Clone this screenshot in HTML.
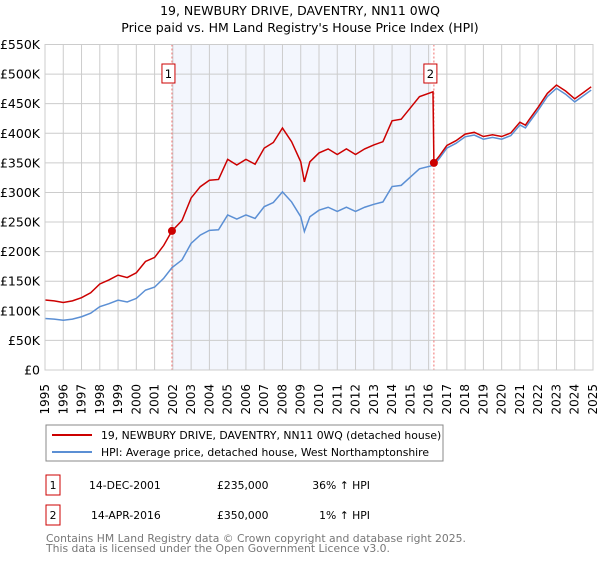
<!DOCTYPE html>
<html><head><meta charset="utf-8"><style>
body{margin:0;background:#fff;font-family:"Liberation Sans","DejaVu Sans",sans-serif;}
svg text{font-family:"DejaVu Sans","Liberation Sans",sans-serif;}
</style></head><body>
<svg id="c" width="600" height="560" viewBox="0 0 600 560">
<text x="300" y="15" font-size="12.5" text-anchor="middle">19, NEWBURY DRIVE, DAVENTRY, NN11 0WQ</text>
<text x="300" y="32" font-size="12.5" text-anchor="middle">Price paid vs. HM Land Registry's House Price Index (HPI)</text>
<g id="plot"></g>
<g>
<rect x="46" y="425" width="397" height="36" fill="#fff" stroke="#888"/>
<line x1="52" y1="435" x2="92" y2="435" stroke="#cc0000" stroke-width="2"/>
<text x="101" y="439" font-size="10.8">19, NEWBURY DRIVE, DAVENTRY, NN11 0WQ (detached house)</text>
<line x1="52" y1="452" x2="92" y2="452" stroke="#5b8fd4" stroke-width="2"/>
<text x="101" y="456" font-size="10.8">HPI: Average price, detached house, West Northamptonshire</text>
</g>
<g font-size="10.8">
<rect x="46" y="475" width="14" height="20" fill="#fff" stroke="#cc0000"/>
<text x="53" y="489" text-anchor="middle">1</text>
<text x="89" y="489">14-DEC-2001</text>
<text x="217" y="489">£235,000</text>
<text x="370" y="489" text-anchor="end">36% ↑ HPI</text>
<rect x="46" y="505" width="14" height="20" fill="#fff" stroke="#cc0000"/>
<text x="53" y="519" text-anchor="middle">2</text>
<text x="91" y="519">14-APR-2016</text>
<text x="217" y="519">£350,000</text>
<text x="370" y="519" text-anchor="end">1% ↑ HPI</text>
</g>
<text x="46" y="542" font-size="10.8" fill="#777">Contains HM Land Registry data © Crown copyright and database right 2025.</text>
<text x="46" y="552" font-size="10.8" fill="#777">This data is licensed under the Open Government Licence v3.0.</text>
</svg>
<script>
const hpiYears=[1995,1995.5,1996,1996.5,1997,1997.5,1998,1998.5,1999,1999.5,2000,2000.5,2001,2001.5,2001.95,2002.5,2003,2003.5,2004,2004.5,2005,2005.5,2006,2006.5,2007,2007.5,2008,2008.5,2009,2009.2,2009.5,2010,2010.5,2011,2011.5,2012,2012.5,2013,2013.5,2014,2014.5,2015,2015.5,2016.29,2016.6,2017,2017.5,2018,2018.5,2019,2019.5,2020,2020.5,2021,2021.3,2021.5,2022,2022.5,2023,2023.5,2024,2024.5,2024.9];
const hpiValues=[87,86,84,86,90,96,107,112,118,115,121,135,140,155,173,186,214,228,236,237,262,255,262,256,276,283,301,284,259,234,259,270,275,268,275,268,275,280,284,310,312,326,340,346,358,375,383,394,397,390,393,390,396,414,409,418,439,462,476,466,453,464,473];
const saleYears=[2001.95,2016.29];
const salePrices=[235,350];
const saleLabels=["1","2"];
const yTicks=[0,50,100,150,200,250,300,350,400,450,500,550];
const yTickLabels=["£0","£50K","£100K","£150K","£200K","£250K","£300K","£350K","£400K","£450K","£500K","£550K"];
const xTicks=[1995,1996,1997,1998,1999,2000,2001,2002,2003,2004,2005,2006,2007,2008,2009,2010,2011,2012,2013,2014,2015,2016,2017,2018,2019,2020,2021,2022,2023,2024,2025];

const L=45,R=593,T=44.5,B=370;
const xs=y=>L+(y-1995)/(2025-1995)*(R-L);
const ys=v=>B-v/550*(B-T);
const NS='http://www.w3.org/2000/svg';
const g=document.getElementById('plot');
function mk(tag,attrs,parent){const e=document.createElementNS(NS,tag);for(const k in attrs)e.setAttribute(k,attrs[k]);(parent||g).appendChild(e);return e;}

const shade=mk('rect',{x:xs(saleYears[0]),y:T,width:xs(saleYears[1])-xs(saleYears[0])-3,height:B-T,fill:'#f3f6fd'});


xTicks.forEach(t=>{const l=mk('line',{x1:xs(t),x2:xs(t),y1:T,y2:B,stroke:'#ccc','stroke-width':1});


const tx=mk('text',{x:0,y:0,'font-size':12,'text-anchor':'end',transform:`translate(${xs(t)+4},384) rotate(-90)`});tx.textContent=t;

});
yTicks.forEach((t,i)=>{const l=mk('line',{x1:L,x2:R,y1:ys(t),y2:ys(t),stroke:'#ccc','stroke-width':1});


const tx=mk('text',{x:40,y:ys(t)+4.5,'font-size':12.5,'text-anchor':'end'});tx.textContent=yTickLabels[i];

});
saleYears.forEach((s,i)=>{const l=mk('line',{x1:xs(s),x2:xs(s),y1:T,y2:B,stroke:'#f07070','stroke-width':1,'stroke-dasharray':'2,2'});


const bx=mk('rect',{x:xs(s)-10,y:64,width:13,height:19,fill:'#fff',stroke:'#cc0000'});


const tx=mk('text',{x:xs(s)-3.5,y:78,'font-size':11.5,'text-anchor':'middle'});tx.textContent=saleLabels[i];

});
const hp=mk('polyline',{points:hpiYears.map((y,i)=>xs(y)+','+ys(hpiValues[i])).join(' '),fill:'none',stroke:'#5b8fd4','stroke-width':1.5});


function hpiAt(y){for(let i=0;i<hpiYears.length-1;i++){if(y<=hpiYears[i+1]){const f=(y-hpiYears[i])/(hpiYears[i+1]-hpiYears[i]);return hpiValues[i]+f*(hpiValues[i+1]-hpiValues[i]);}}return hpiValues[hpiValues.length-1];}
const r0=salePrices[0]/hpiAt(saleYears[0]), r1=salePrices[1]/hpiAt(saleYears[1]);
const pts=[];
hpiYears.forEach((y,i)=>{
if(y<saleYears[1]) pts.push([y,hpiValues[i]*r0]);
else { if(y===saleYears[1]) pts.push([y-0.05,hpiValues[i]*r0]); pts.push([y,hpiValues[i]*r1]); }});
const pl=mk('polyline',{points:pts.map(p=>xs(p[0])+','+ys(p[1])).join(' '),fill:'none',stroke:'#cc0000','stroke-width':1.5});


saleYears.forEach((s,i)=>{const c=mk('circle',{cx:xs(s),cy:ys(salePrices[i]),r:4,fill:'#cc0000'});

});
const fr=mk('rect',{x:L,y:T,width:R-L,height:B-T,fill:'none',stroke:'#ccc'});


</script>
</body></html>
